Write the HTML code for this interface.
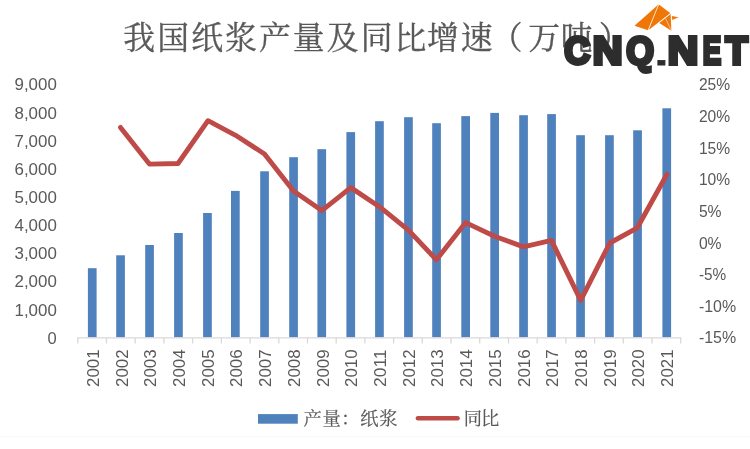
<!DOCTYPE html>
<html lang="zh-CN">
<head>
<meta charset="utf-8">
<title>我国纸浆产量及同比增速（万吨）</title>
<style>
html,body{margin:0;padding:0;background:#fff;}
body{width:750px;height:449px;overflow:hidden;}
svg{display:block;}
.num{font-family:"Liberation Sans","DejaVu Sans",sans-serif;font-size:17px;fill:#595959;}
.cjk{font-family:"Liberation Serif","Noto Serif CJK SC",serif;fill:#595959;}
.logo{font-family:"Liberation Sans","DejaVu Sans",sans-serif;font-weight:bold;fill:#2d2d2d;stroke:#2d2d2d;stroke-linejoin:miter;}
</style>
</head>
<body>
<svg width="750" height="449" viewBox="0 0 750 449">
<rect x="0" y="0" width="750" height="449" fill="#ffffff"/>
<rect x="0" y="436" width="750" height="1" fill="#f8f8f8"/>
<text class="cjk" x="123.35 157.25 191.15 225.05 258.95 292.85 326.75 360.65 394.55 427.05 460.85 490.75 528.35 560.75 598.75" y="49.1" font-size="31.8" stroke="#595959" stroke-width="0.35">我国纸浆产量及同比增速（万吨）</text>
<g fill="#4f81bd">
<rect x="87.9" y="268.2" width="8.7" height="69.1"/>
<rect x="116.2" y="255.3" width="8.7" height="82.0"/>
<rect x="145.2" y="245.0" width="8.7" height="92.3"/>
<rect x="174.1" y="233.0" width="8.7" height="104.3"/>
<rect x="203.1" y="213.0" width="8.7" height="124.3"/>
<rect x="231.0" y="190.9" width="8.7" height="146.4"/>
<rect x="260.2" y="171.3" width="8.7" height="166.0"/>
<rect x="289.2" y="157.2" width="8.7" height="180.1"/>
<rect x="317.4" y="149.2" width="8.7" height="188.1"/>
<rect x="346.4" y="132.1" width="8.7" height="205.2"/>
<rect x="375.1" y="121.2" width="8.7" height="216.1"/>
<rect x="404.1" y="117.2" width="8.7" height="220.1"/>
<rect x="432.2" y="123.2" width="8.7" height="214.1"/>
<rect x="461.3" y="116.1" width="8.7" height="221.2"/>
<rect x="490.3" y="112.9" width="8.7" height="224.4"/>
<rect x="519.2" y="115.2" width="8.7" height="222.1"/>
<rect x="547.2" y="114.1" width="8.7" height="223.2"/>
<rect x="576.2" y="135.2" width="8.7" height="202.1"/>
<rect x="605.1" y="135.2" width="8.7" height="202.1"/>
<rect x="633.2" y="130.3" width="8.7" height="207.0"/>
<rect x="662.4" y="108.3" width="8.7" height="229.0"/>
</g>
<g stroke="#d9d9d9" stroke-width="1.3" fill="none">
<path d="M77.2 337.9H681.3"/>
<path d="M77.8 337.9V343.6M106.5 337.9V343.6M135.2 337.9V343.6M163.9 337.9V343.6M192.6 337.9V343.6M221.4 337.9V343.6M250.1 337.9V343.6M278.8 337.9V343.6M307.5 337.9V343.6M336.2 337.9V343.6M364.9 337.9V343.6M393.6 337.9V343.6M422.3 337.9V343.6M451.0 337.9V343.6M479.7 337.9V343.6M508.5 337.9V343.6M537.2 337.9V343.6M565.9 337.9V343.6M594.6 337.9V343.6M623.3 337.9V343.6M652.0 337.9V343.6M680.7 337.9V343.6"/>
</g>
<polyline points="120.5,127.4 149.4,164.1 178.0,163.5 208.0,120.7 235.6,135.3 264.5,154.0 293.5,191.0 321.8,210.6 350.8,187.6 379.4,206.7 408.4,230.1 436.4,259.8 465.7,222.6 494.5,236.2 523.5,246.9 551.4,240.4 580.7,300.4 609.8,243.0 637.3,227.8 667.0,174.3" fill="none" stroke="#be4b48" stroke-width="4.9" stroke-linecap="round" stroke-linejoin="round"/>
<text class="num" x="56.8" y="90.4" text-anchor="end" textLength="42.3" lengthAdjust="spacingAndGlyphs">9,000</text>
<text class="num" x="56.8" y="118.5" text-anchor="end" textLength="42.3" lengthAdjust="spacingAndGlyphs">8,000</text>
<text class="num" x="56.8" y="146.7" text-anchor="end" textLength="42.3" lengthAdjust="spacingAndGlyphs">7,000</text>
<text class="num" x="56.8" y="174.8" text-anchor="end" textLength="42.3" lengthAdjust="spacingAndGlyphs">6,000</text>
<text class="num" x="56.8" y="202.9" text-anchor="end" textLength="42.3" lengthAdjust="spacingAndGlyphs">5,000</text>
<text class="num" x="56.8" y="231.1" text-anchor="end" textLength="42.3" lengthAdjust="spacingAndGlyphs">4,000</text>
<text class="num" x="56.8" y="259.2" text-anchor="end" textLength="42.3" lengthAdjust="spacingAndGlyphs">3,000</text>
<text class="num" x="56.8" y="287.3" text-anchor="end" textLength="42.3" lengthAdjust="spacingAndGlyphs">2,000</text>
<text class="num" x="56.8" y="315.5" text-anchor="end" textLength="42.3" lengthAdjust="spacingAndGlyphs">1,000</text>
<text class="num" x="56.8" y="343.6" text-anchor="end" textLength="9.2" lengthAdjust="spacingAndGlyphs">0</text>
<text class="num" x="698.9" y="90.0" textLength="31.2" lengthAdjust="spacingAndGlyphs">25%</text>
<text class="num" x="698.9" y="121.8" textLength="31.2" lengthAdjust="spacingAndGlyphs">20%</text>
<text class="num" x="698.9" y="153.8" textLength="31.2" lengthAdjust="spacingAndGlyphs">15%</text>
<text class="num" x="698.9" y="185.4" textLength="31.2" lengthAdjust="spacingAndGlyphs">10%</text>
<text class="num" x="698.9" y="217.0" textLength="22.7" lengthAdjust="spacingAndGlyphs">5%</text>
<text class="num" x="698.9" y="248.6" textLength="22.7" lengthAdjust="spacingAndGlyphs">0%</text>
<text class="num" x="698.9" y="280.2" textLength="27.3" lengthAdjust="spacingAndGlyphs">-5%</text>
<text class="num" x="698.9" y="311.8" textLength="37.2" lengthAdjust="spacingAndGlyphs">-10%</text>
<text class="num" x="698.9" y="343.4" textLength="37.2" lengthAdjust="spacingAndGlyphs">-15%</text>
<text class="num" transform="translate(98.9 387) rotate(-90)" textLength="37.6" lengthAdjust="spacingAndGlyphs">2001</text>
<text class="num" transform="translate(127.6 387) rotate(-90)" textLength="37.6" lengthAdjust="spacingAndGlyphs">2002</text>
<text class="num" transform="translate(156.3 387) rotate(-90)" textLength="37.6" lengthAdjust="spacingAndGlyphs">2003</text>
<text class="num" transform="translate(185.0 387) rotate(-90)" textLength="37.6" lengthAdjust="spacingAndGlyphs">2004</text>
<text class="num" transform="translate(213.7 387) rotate(-90)" textLength="37.6" lengthAdjust="spacingAndGlyphs">2005</text>
<text class="num" transform="translate(242.4 387) rotate(-90)" textLength="37.6" lengthAdjust="spacingAndGlyphs">2006</text>
<text class="num" transform="translate(271.1 387) rotate(-90)" textLength="37.6" lengthAdjust="spacingAndGlyphs">2007</text>
<text class="num" transform="translate(299.8 387) rotate(-90)" textLength="37.6" lengthAdjust="spacingAndGlyphs">2008</text>
<text class="num" transform="translate(328.5 387) rotate(-90)" textLength="37.6" lengthAdjust="spacingAndGlyphs">2009</text>
<text class="num" transform="translate(357.2 387) rotate(-90)" textLength="37.6" lengthAdjust="spacingAndGlyphs">2010</text>
<text class="num" transform="translate(386.0 387) rotate(-90)" textLength="37.6" lengthAdjust="spacingAndGlyphs">2011</text>
<text class="num" transform="translate(414.7 387) rotate(-90)" textLength="37.6" lengthAdjust="spacingAndGlyphs">2012</text>
<text class="num" transform="translate(443.4 387) rotate(-90)" textLength="37.6" lengthAdjust="spacingAndGlyphs">2013</text>
<text class="num" transform="translate(472.1 387) rotate(-90)" textLength="37.6" lengthAdjust="spacingAndGlyphs">2014</text>
<text class="num" transform="translate(500.8 387) rotate(-90)" textLength="37.6" lengthAdjust="spacingAndGlyphs">2015</text>
<text class="num" transform="translate(529.5 387) rotate(-90)" textLength="37.6" lengthAdjust="spacingAndGlyphs">2016</text>
<text class="num" transform="translate(558.2 387) rotate(-90)" textLength="37.6" lengthAdjust="spacingAndGlyphs">2017</text>
<text class="num" transform="translate(586.9 387) rotate(-90)" textLength="37.6" lengthAdjust="spacingAndGlyphs">2018</text>
<text class="num" transform="translate(615.6 387) rotate(-90)" textLength="37.6" lengthAdjust="spacingAndGlyphs">2019</text>
<text class="num" transform="translate(644.3 387) rotate(-90)" textLength="37.6" lengthAdjust="spacingAndGlyphs">2020</text>
<text class="num" transform="translate(673.1 387) rotate(-90)" textLength="37.6" lengthAdjust="spacingAndGlyphs">2021</text>
<rect x="258" y="414.1" width="39.8" height="9.6" fill="#4f81bd"/>
<text class="cjk" x="303.5" y="424.5" font-size="18.3" stroke="#595959" stroke-width="0.2" textLength="94" lengthAdjust="spacing">产量：纸浆</text>
<path d="M418 418.3H457.5" stroke="#be4b48" stroke-width="4.6" stroke-linecap="round" fill="none"/>
<text class="cjk" x="463.8" y="424.5" font-size="18.3" stroke="#595959" stroke-width="0.2" textLength="35.5" lengthAdjust="spacing">同比</text>
<g fill="#ee7708">
<polygon points="658.7,4.2 634.5,25.7 648,30.3"/>
<polygon points="658.9,4.4 648.6,30.1 670.4,13.2"/>
<polygon points="670.6,14 659.2,22.9 671.4,30.8"/>
<polygon points="671.8,15.9 678.4,17.3 672.3,20.1"/>
</g>
<g stroke="#ffffff" stroke-width="0.5" fill="none">
<path d="M658.5 4.6L648.2 30"/>
<path d="M670.4 13.4L659 22.6"/>
<path d="M665.5 18.3L671.3 30.6"/>
</g>
<g class="logo">
<text transform="translate(564.13 63.80) scale(0.919 1)" font-size="39.10" stroke-width="3.8">C</text>
<text transform="translate(592.85 63.80) scale(1.053 1)" font-size="39.10" stroke-width="3.8">N</text>
<text transform="translate(626.14 63.80) scale(0.913 1)" font-size="39.10" stroke-width="3.8">Q</text>
<text transform="translate(654.66 65.30) scale(1.227 0.791)" font-size="39.10" stroke-width="1">.</text>
<text transform="translate(667.78 63.80) scale(1.079 1)" font-size="39.10" stroke-width="3.8">N</text>
<text transform="translate(702.75 63.80) scale(0.707 1)" font-size="39.10" stroke-width="3.8">E</text>
<text transform="translate(725.49 63.80) scale(0.934 1)" font-size="39.10" stroke-width="3.8">T</text>
</g>
</svg>
</body>
</html>
